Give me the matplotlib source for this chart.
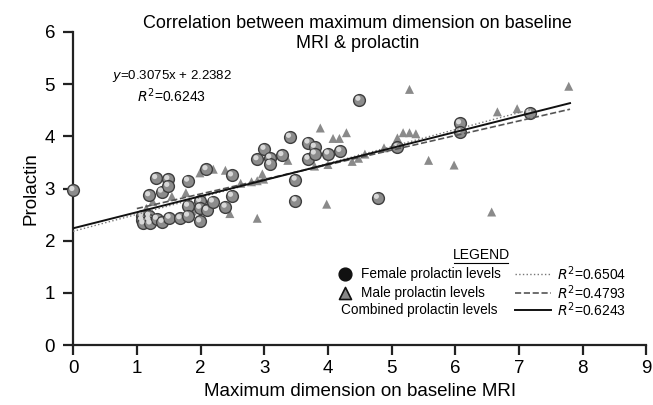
import matplotlib.pyplot as plt
import numpy as np

# female prolactin levels (circles)
f_x = [0.0, 1.08, 1.19, 1.08, 1.19, 1.10, 1.21, 1.19, 1.30, 1.39, 1.31, 1.40, 1.49, 1.49,
       1.51, 1.68, 1.80, 1.80, 1.80, 1.99, 1.99, 1.99, 2.09, 2.10, 2.19, 2.39, 2.49, 2.49,
       2.89, 3.00, 3.09, 3.09, 3.28, 3.40, 3.49, 3.49, 3.69, 3.69, 3.79, 3.79, 4.00, 4.19,
       4.49, 4.78, 5.09, 6.07, 6.07, 7.17]
f_y = [2.97, 2.48, 2.48, 2.40, 2.40, 2.33, 2.33, 2.87, 3.20, 2.94, 2.42, 2.36, 3.18, 3.05,
       2.44, 2.43, 3.15, 2.67, 2.48, 2.76, 2.63, 2.37, 3.37, 2.59, 2.75, 2.65, 3.25, 2.86,
       3.56, 3.76, 3.59, 3.47, 3.64, 3.99, 3.17, 2.77, 3.88, 3.57, 3.80, 3.67, 3.67, 3.72,
       4.70, 2.82, 3.79, 4.25, 4.08, 4.45]

# male prolactin levels (triangles)
m_x = [1.15, 1.25, 1.55, 1.77, 1.87, 1.99, 2.20, 2.39, 2.46, 2.63, 2.80, 2.89, 2.89, 2.97,
       2.99, 3.37, 3.79, 3.88, 3.98, 4.00, 4.08, 4.18, 4.29, 4.38, 4.48, 4.58, 4.88, 5.09,
       5.18, 5.28, 5.28, 5.38, 5.58, 5.98, 6.57, 6.66, 6.97, 7.78]
m_y = [2.62, 2.75, 2.85, 2.92, 2.57, 3.30, 3.37, 3.35, 2.52, 3.10, 3.13, 3.15, 2.43, 3.28,
       3.18, 3.54, 3.43, 4.16, 2.70, 3.46, 3.96, 3.96, 4.07, 3.52, 3.58, 3.66, 3.78, 3.97,
       4.07, 4.07, 4.90, 4.05, 3.54, 3.45, 2.55, 4.47, 4.53, 4.96]

# trend lines: slope, intercept, x range, r2
fits = {
    "female":   (0.325, 2.18, (0.0, 7.2), "0.6504"),
    "male":     (0.28, 2.336, (1.0, 7.8), "0.4793"),
    "combined": (0.3075, 2.2382, (0.0, 7.8), "0.6243"),
}
styles = {"female": (":", 1.0, "#777777"), "male": ("--", 1.2, "#555555"),
          "combined": ("-", 1.4, "#111111")}

plt.rcParams['font.family'] = ['Liberation Sans', 'DejaVu Sans']

fig = plt.figure(figsize=(6.53, 4.05), dpi=100)
ax = fig.add_axes([0.112, 0.148, 0.878, 0.773])

ax.scatter(m_x, m_y, marker='^', s=42, color='#8a8a8a', edgecolor='none', zorder=3)
ax.scatter(f_x, f_y, marker='o', s=72, color='#8c8c8c', edgecolor='#3e3e3e',
           linewidth=1.0, zorder=4, clip_on=False)
ax.scatter(np.array(f_x) - 0.02, np.array(f_y) + 0.03, marker='o', s=14,
           color='#d8d8d8', edgecolor='none', zorder=5, clip_on=False)

for k in ["female", "male", "combined"]:
    a, b, (x0, x1), r2 = fits[k]
    xs = np.array([x0, x1])
    ls, lw, c = styles[k]
    ax.plot(xs, a * xs + b, linestyle=ls, linewidth=lw, color=c, zorder=6)

ax.set_xlim(0, 9)
ax.set_ylim(0, 6)
ax.set_xticks(range(0, 10))
ax.set_yticks(range(0, 7))
for s in ['top', 'right']:
    ax.spines[s].set_visible(False)
for s in ['left', 'bottom']:
    ax.spines[s].set_linewidth(1.6)
    ax.spines[s].set_color('#222222')
ax.tick_params(axis='both', length=7, width=1.6, color='#222222', labelsize=13.5)
ax.tick_params(axis='x', pad=4)
ax.tick_params(axis='y', pad=6)
ax.set_xlabel("Maximum dimension on baseline MRI", fontsize=13.5, labelpad=4)
ax.set_ylabel("Prolactin", fontsize=13.5, labelpad=4)

fig.text(0.548, 0.918, "Correlation between maximum dimension on baseline\nMRI & prolactin",
         ha='center', va='center', fontsize=13, linespacing=1.25)

ax.text(1.55, 5.15, r"$y$=0.3075x + 2.2382", ha='center', va='center', fontsize=9.5)
ax.text(1.55, 4.77, r"$R^2$=0.6243", ha='center', va='center', fontsize=10)

# legend
ax.text(6.41, 1.72, "LEGEND", ha='center', va='center', fontsize=10)
ax.plot([5.98, 6.83], [1.57, 1.57], color='black', linewidth=0.8)
rows = [("female", 1.36, 'o', "Female prolactin levels"),
        ("male", 1.00, '^', "Male prolactin levels"),
        ("combined", 0.67, None, "Combined prolactin levels")]
for k, yy, mk, label in rows:
    if mk == 'o':
        ax.scatter([4.27], [yy], marker='o', s=85, color='#111111', zorder=5)
        ax.text(4.52, yy, label, va='center', fontsize=9.8)
    elif mk == '^':
        ax.scatter([4.27], [yy], marker='^', s=75, color='#888888',
                   edgecolor='#111111', linewidth=1.2, zorder=5)
        ax.text(4.52, yy, label, va='center', fontsize=9.8)
    else:
        ax.text(4.2, yy, label, va='center', fontsize=9.8)
    ls, lw, c = styles[k]
    ax.plot([6.94, 7.5], [yy, yy], linestyle=ls, linewidth=lw, color=c)
    ax.text(7.6, yy, r"$R^2$=" + fits[k][3], va='center', fontsize=10)

fig.savefig("out.png", dpi=100)
